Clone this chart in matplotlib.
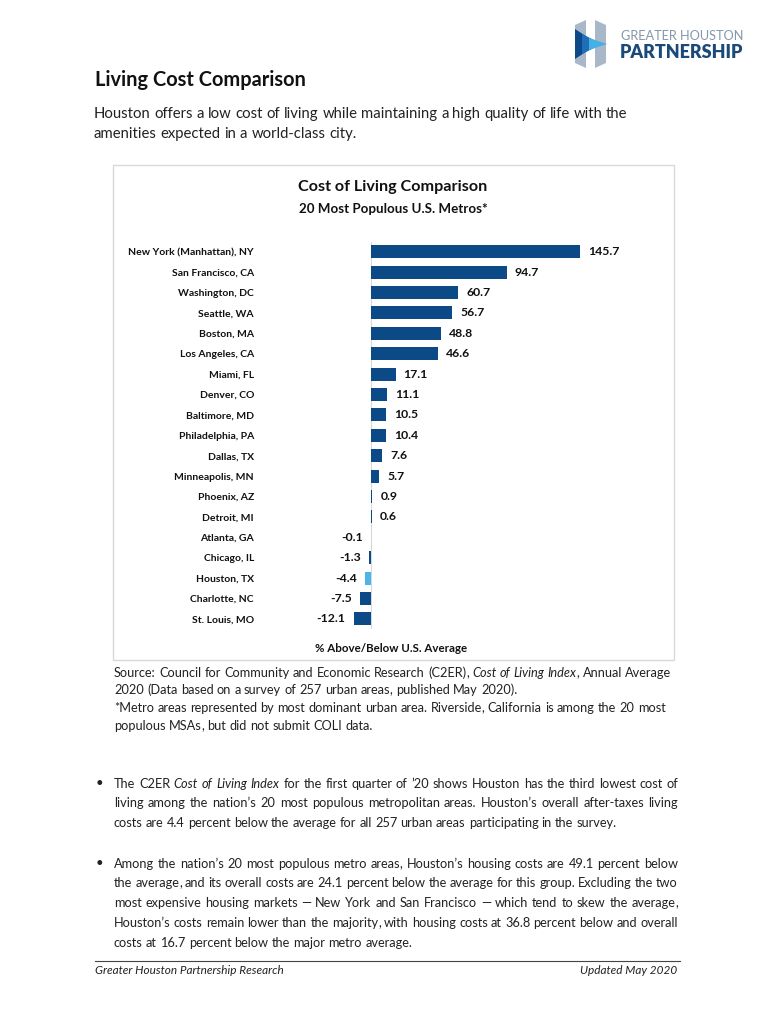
import matplotlib
matplotlib.use('Agg')
import matplotlib.pyplot as plt
from matplotlib.patches import Rectangle, Polygon

plt.rcParams['font.family'] = ['Lato', 'DejaVu Sans']

# --- data -------------------------------------------------------------
cities = ['New York (Manhattan), NY', 'San Francisco, CA', 'Washington, DC',
          'Seattle, WA', 'Boston, MA', 'Los Angeles, CA', 'Miami, FL',
          'Denver, CO', 'Baltimore, MD', 'Philadelphia, PA', 'Dallas, TX',
          'Minneapolis, MN', 'Phoenix, AZ', 'Detroit, MI', 'Atlanta, GA',
          'Chicago, IL', 'Houston, TX', 'Charlotte, NC', 'St. Louis, MO']
pct_vs_avg = [145.7, 94.7, 60.7, 56.7, 48.8, 46.6, 17.1, 11.1, 10.5, 10.4,
              7.6, 5.7, 0.9, 0.6, -0.1, -1.3, -4.4, -7.5, -12.1]
highlight = 'Houston, TX'

page_title = 'Living Cost Comparison'
intro = ['Houston offers a low cost of living while maintaining a high quality of life with the',
         'amenities expected in a world-class city.']
chart_title = 'Cost of Living Comparison'
chart_sub = '20 Most Populous U.S. Metros*'
x_label = '% Above/Below U.S. Average'
source = ['Source: Council for Community and Economic Research (C2ER), _Cost of Living Index_, Annual Average',
          '2020 (Data based on a survey of 257 urban areas, published May 2020).',
          '*Metro areas represented by most dominant urban area. Riverside, California is among the 20 most',
          'populous MSAs, but did not submit COLI data.']
bullet1 = ['The C2ER _Cost of Living Index_ for the first quarter of \u201920 shows Houston has the third lowest cost of',
           'living among the nation\u2019s 20 most populous metropolitan areas. Houston\u2019s overall after-taxes living',
           'costs are 4.4 percent below the average for all 257 urban areas participating in the survey.']
bullet2 = ['Among the nation\u2019s 20 most populous metro areas, Houston\u2019s housing costs are 49.1 percent below',
           'the average, and its overall costs are 24.1 percent below the average for this group. Excluding the two',
           'most expensive housing markets \u2014 New York and San Francisco \u2014 which tend to skew the average,',
           'Houston\u2019s costs remain lower than the majority, with housing costs at 36.8 percent below and overall',
           'costs at 16.7 percent below the major metro average.']
footer_left = 'Greater Houston Partnership Research'
footer_right = 'Updated May 2020'

BAR = '#0B4A87'
BAR_HI = '#4DB4E6'
TXT = '#222222'

W, H = 768, 1024
fig = plt.figure(figsize=(W / 100, H / 100), dpi=100)
page = fig.add_axes([0, 0, 1, 1])
page.set_xlim(0, W)
page.set_ylim(H, 0)
page.axis('off')
renderer = fig.canvas.get_renderer()


def words_of(line):
    # '_' toggles italic; a glued token gets no space before it
    out = []
    prev_space = True
    for k, seg in enumerate(line.split('_')):
        for j, p in enumerate(seg.split(' ')):
            if p == '':
                continue
            glue = j == 0 and len(out) > 0 and not prev_space
            # trailing comma drawn on its own so the word keeps the baseline
            if p.endswith(',') and len(p) > 1:
                out.append((p[:-1], k % 2 == 1, glue))
                out.append((',', False, True))
            else:
                out.append((p, k % 2 == 1, glue))
        if seg:
            prev_space = seg.endswith(' ')
    return out


def put_line(y, line, x0, x1=None, size=9.2):
    # y is the visual middle of the line; words sit on a common baseline
    base = round(y + 0.36 * size * 100 / 72)
    arts = []
    for w, ital, glue in words_of(line):
        t = page.text(0, base, w, fontsize=size, color=TXT, va='baseline', ha='left',
                      style='italic' if ital else 'normal')
        arts.append((t, t.get_window_extent(renderer).width, glue))
    p1 = page.text(0, 0, 'x x', fontsize=size)
    p2 = page.text(0, 0, 'xx', fontsize=size)
    space = p1.get_window_extent(renderer).width - p2.get_window_extent(renderer).width
    p1.remove()
    p2.remove()
    n_gaps = sum(1 for a in arts[1:] if not a[2])
    if x1 is not None and n_gaps:
        space = (x1 - x0 - sum(a[1] for a in arts)) / n_gaps
    x = x0
    for i, (t, wd, glue) in enumerate(arts):
        if i > 0 and not glue:
            x += space
        t.set_x(x)
        x += wd


# --- logo ---------------------------------------------------------------
page.add_patch(Polygon([(575, 25), (586, 20), (586, 68), (575, 63)], closed=True, color='#A9B8C8', lw=0))
page.add_patch(Polygon([(595, 20), (606, 25), (606, 63), (595, 68)], closed=True, color='#A9B8C8', lw=0))
page.add_patch(Polygon([(575, 29), (598, 44), (575, 59)], closed=True, color='#0B4A87', lw=0))
page.add_patch(Polygon([(582, 34), (602, 44), (582, 54)], closed=True, color='#1F6FB8', lw=0))
page.add_patch(Polygon([(589, 38), (607, 44), (589, 50)], closed=True, color='#45B0E5', lw=0))
page.text(621, 36, 'GREATER HOUSTON', fontsize=9.2, color='#8497AB', va='center', ha='left')
page.text(620, 53, 'PARTNERSHIP', fontsize=13, color='#1B4A7A', va='center', ha='left',
          weight='heavy')

# --- page text ------------------------------------------------------------
page.text(95, 80, page_title, fontsize=14.4, weight='bold', color='#111111', va='center')
put_line(113, intro[0], 94, size=10.7)
put_line(133, intro[1], 94, size=10.7)

# chart frame
page.add_patch(Rectangle((113, 165), 561, 495, fill=False, ec='#D9D9D9', lw=1))
page.text(393, 187, chart_title, fontsize=11.6, weight='bold', color='#111111', ha='center', va='center')
page.text(393, 209, chart_sub, fontsize=9.6, weight='bold', color='#111111', ha='center', va='center')
page.text(391, 648, x_label, fontsize=8.3, weight='bold', color='#111111', ha='center', va='center')

# --- bar chart --------------------------------------------------------------
ax = fig.add_axes([290 / W, 1 - 629.1 / H, 370 / W, 387.6 / H])
ypos = list(range(len(cities)))
colors = [BAR_HI if c == highlight else BAR for c in cities]
bars = ax.barh(ypos, pct_vs_avg, height=0.64, color=colors, zorder=2)
ax.axvline(0, color='#D9D9D9', lw=0.8, zorder=1)
ax.bar_label(bars, labels=['%.1f' % v for v in pct_vs_avg], padding=5.8,
             fontsize=8.8, weight='bold', color='#111111')
ax.set_xlim(-56.5, 201.5)
ax.set_ylim(len(cities) - 0.5, -0.5)
ax.set_yticks(ypos, cities)
ax.tick_params(axis='y', length=0, pad=26, labelsize=7.45)
for lab in ax.get_yticklabels():
    lab.set_fontweight('bold')
    lab.set_color('#111111')
ax.set_xticks([])
for s in ax.spines.values():
    s.set_visible(False)
ax.patch.set_alpha(0)

# --- notes ------------------------------------------------------------------
for i, line in enumerate(source):
    put_line(672 + i * 17.8, line, 114)

for y0, para in ((783, bullet1), (863, bullet2)):
    page.text(96, y0, '\u2022', fontsize=9.5, color=TXT, va='center', ha='left')
    for i, line in enumerate(para):
        last = i == len(para) - 1
        put_line(y0 + i * 19.8, line, 114, None if last else 678)

# footer
page.plot([95, 680], [961, 961], color='#444444', lw=0.8)
page.text(95, 971, footer_left, fontsize=8.5, style='italic', color=TXT, va='center')
page.text(677, 971, footer_right, fontsize=8.5, style='italic', color=TXT, va='center', ha='right')

fig.savefig('out.png', dpi=100)
